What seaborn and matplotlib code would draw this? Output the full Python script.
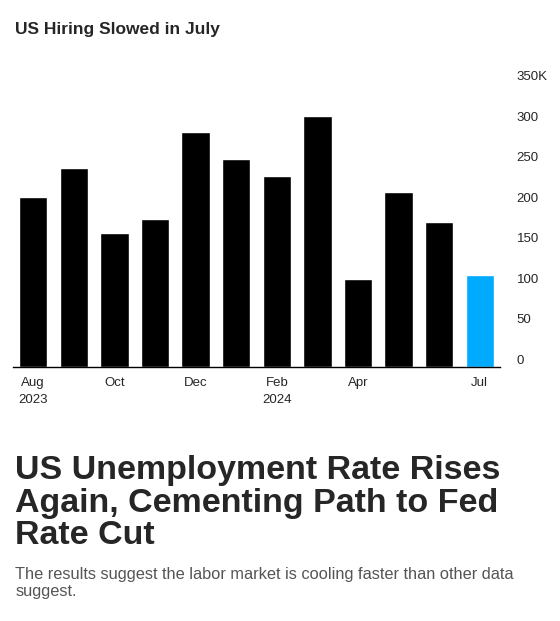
import matplotlib
matplotlib.use("Agg")
import matplotlib.pyplot as plt
import seaborn as sns
import pandas as pd

months = ["Aug","Sep","Oct","Nov","Dec","Jan","Feb","Mar","Apr","May","Jun","Jul"]
payrolls = [210, 246, 165, 182, 290, 256, 236, 310, 108, 216, 179, 114]
tick_labels = {0: "Aug\n2023", 2: "Oct", 4: "Dec", 6: "Feb\n2024", 8: "Apr", 11: "Jul"}
y_ticks = [0, 50, 100, 150, 200, 250, 300, 350]
y_labels = ["0", "50", "100", "150", "200", "250", "300", "350K"]

sns.set_style("white")
plt.rcParams['font.family'] = ['Liberation Sans', 'DejaVu Sans']

fig = plt.figure(figsize=(5.6, 6.21), dpi=100)
ax = fig.add_axes([0.023, 0.409, 0.87, 0.457])
df = pd.DataFrame({"m": months, "v": payrolls})
colors = ["black"] * 11 + ["#00aaff"]
sns.barplot(data=df, x="m", y="v", hue="m", palette=colors, legend=False, width=0.7, ax=ax, saturation=1)
ax.set_ylim(0, 350)
ax.set_xlim(-0.5, 11.5)
for s in ["top", "left", "right"]:
    ax.spines[s].set_visible(False)
ax.spines["bottom"].set_color("black")
ax.spines["bottom"].set_linewidth(1)
ax.set_xlabel(""); ax.set_ylabel("")
ax.set_xticks(list(tick_labels.keys()))
ax.set_xticklabels(list(tick_labels.values()), fontsize=9.5, ha="center", linespacing=1.55)
ax.tick_params(axis="x", length=4, color="black", pad=3)
ax.yaxis.tick_right()
ax.set_yticks(y_ticks)
ax.set_yticklabels(y_labels, fontsize=9.5, va="bottom")
ax.tick_params(axis="y", length=0, pad=12)

fig.text(0.027, 0.952, "US Hiring Slowed in July", fontsize=12.5, fontweight="bold", va="center")
fig.text(0.027, 0.112, "US Unemployment Rate Rises\nAgain, Cementing Path to Fed\nRate Cut",
         fontsize=24.5, fontweight="bold", va="bottom", linespacing=1.08)
fig.text(0.027, 0.035, "The results suggest the labor market is cooling faster than other data\nsuggest.",
         fontsize=11.8, color="#555555", va="bottom", linespacing=1.15)
fig.savefig("out.png", dpi=100)
